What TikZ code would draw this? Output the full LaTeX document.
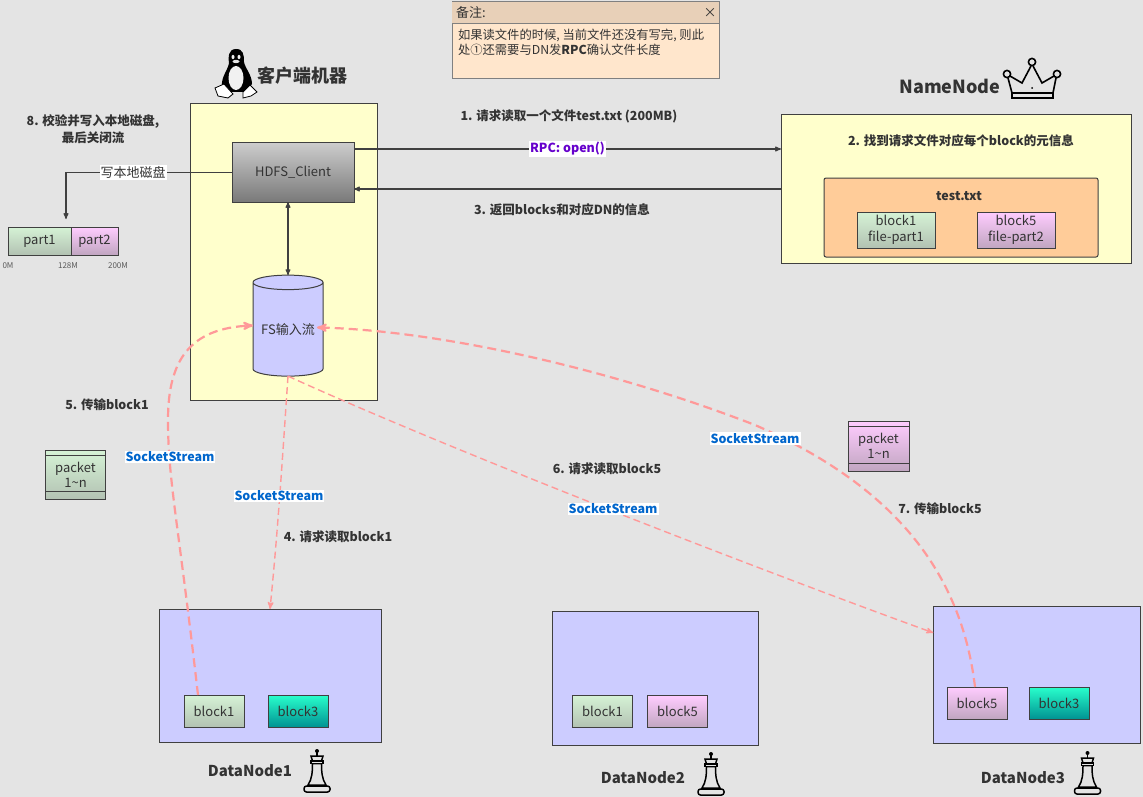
\documentclass[tikz,border=0pt]{standalone}
\usepackage{fontspec}
\setmainfont{Noto Sans CJK SC}
\usetikzlibrary{positioning, arrows, shapes.geometric}
\definecolor{pagebg}{HTML}{E4E4E4}
\definecolor{boxyellow}{HTML}{FFFFCC}
\definecolor{edgedark}{HTML}{404040}
\definecolor{textdark}{HTML}{333333}
\definecolor{discblue}{HTML}{CCCCFF}
\definecolor{fileorange}{HTML}{FFCC99}
\definecolor{notehead}{HTML}{E8D0B8}
\definecolor{notebody}{HTML}{FFE6CC}
\definecolor{pinkline}{HTML}{FF9999}
\definecolor{linkblue}{HTML}{0066CC}
\definecolor{rpcpurple}{HTML}{6600CC}
\tikzset{
  >=stealth',
  x=1pt, y=-1pt,
  every node/.style={inner sep=0pt, outer sep=0pt, text=textdark},
  plain/.style={font=\fontsize{13}{15.5}\selectfont},
  steplabel/.style={font=\bfseries\fontsize{12.5}{17}\selectfont, align=center},
  titlelabel/.style={font=\bfseries\fontsize{18}{20}\selectfont},
  dnlabel/.style={font=\bfseries\fontsize{15}{18}\selectfont},
  panel/.style={draw=edgedark, line width=1pt, fill=boxyellow},
  greenbox/.style={plain, draw=edgedark, line width=1pt, top color=green!12!white!95!black, bottom color=green!20!black!30!white, align=center},
  pinkbox/.style={plain, draw=edgedark, line width=1pt, top color=magenta!20!white, bottom color=magenta!30!black!35!white, align=center},
  tealbox/.style={plain, draw=edgedark, line width=1pt, top color=cyan!80!white!80!green, bottom color=teal!85!cyan, align=center},
  blockbox/.style={minimum width=60pt, minimum height=32pt},
  filebox/.style={minimum width=78pt, minimum height=36pt},
  packetbox/.style={minimum width=60pt, minimum height=49pt, path picture={
      \draw[edgedark, line width=1pt] ([yshift=-5pt]path picture bounding box.north west) -- ([yshift=-5pt]path picture bounding box.north east);
      \draw[edgedark, line width=1pt] ([yshift=8pt]path picture bounding box.south west) -- ([yshift=8pt]path picture bounding box.south east);}},
  datadisc/.style={cylinder, draw=edgedark, line width=1pt, fill=discblue, cylinder uses custom fill, cylinder body fill=discblue, cylinder end fill=discblue, aspect=0.32, minimum height=222pt, minimum width=133pt},
  flow/.style={draw=edgedark, line width=1.1pt},
  pinkbold/.style={draw=pinkline, line width=2.2pt, dash pattern=on 9pt off 5pt},
  pinkthin/.style={draw=pinkline, line width=1.4pt, dash pattern=on 7pt off 4pt},
  socket/.style={fill=white, text=linkblue, font=\bfseries\fontsize{12.5}{14}\selectfont, inner xsep=1pt, inner ysep=1pt},
  chesspiece/.pic={
    \draw[black, line width=1.5pt, fill=pagebg] (-4.5,15.5) .. controls (-4.5,24) and (-5,31) .. (-9,37) -- (9,37) .. controls (5,31) and (4.5,24) .. (4.5,15.5) -- cycle;
    \draw[black, line width=1.5pt, fill=pagebg] (-6,8) -- (6,8) -- (4.5,13) -- (-4.5,13) -- cycle;
    \draw[black, line width=1.5pt, fill=pagebg] (-6,13) rectangle (6,15.5);
    \draw[black, line width=1.5pt, fill=pagebg, rounded corners=2.5pt] (-13,38) rectangle (13,44);
    \fill[black] (0,3) circle (2pt);
    \draw[black, line width=1.5pt] (0,3) -- (0,8);
  },
}

\begin{document}
\begin{tikzpicture}
      % page
      \fill[pagebg] (0,0) rectangle (1143,797);
      \useasboundingbox (0,0) rectangle (1143,797);

      % note
      \node[draw=gray, line width=1pt, fill=notebody, minimum width=267pt, minimum height=77pt] (note) at (585.5,40.5) {};
      \fill[notehead] (note.north west) rectangle ([yshift=-22pt]note.north east);
      \draw[gray, line width=1pt] ([yshift=-22pt]note.north west) -- ([yshift=-22pt]note.north east);
      \node[plain, anchor=west] (notetitle) at (456,13) {备注:};
      \node[plain, anchor=center] (noteclose) at (710,13) {×};
      \node[anchor=north west, font=\fontsize{12.3}{15}\selectfont, align=left] (notetext) at (458,29) {如果读文件的时候, 当前文件还没有写完, 则此\\处①还需要与DN发\textbf{RPC}确认文件长度};

      % client side
      \node[panel, minimum width=187pt, minimum height=296pt] (client) at (284,252) {};
      \node[plain, draw=edgedark, line width=1pt, top color=gray!40, bottom color=gray!95!black, minimum width=122pt, minimum height=59pt] (hdfs) at (293,172.5) {HDFS\_Client};
      \node[cylinder, shape border rotate=90, draw=edgedark, line width=1pt, cylinder uses custom fill, cylinder body fill=discblue, cylinder end fill=discblue, aspect=0.27, minimum width=70pt, minimum height=101pt, plain] (fs) at (288,329.5) {FS输入流};
      \node[titlelabel] (clienttitle) at (302,76) {客户端机器};

      % penguin
      \fill[black] (236,49) .. controls (228,49) and (228,58) .. (229,63) .. controls (228,70) and (221,77) .. (222,86) -- (228,92) -- (245,92) -- (252,84) .. controls (252,75) and (245,68) .. (244,62) .. controls (244,54) and (243,49) .. (236,49) -- cycle;
      \fill[pagebg!50!white] (236,78) ellipse (7.5pt and 12pt);
      \fill[pagebg!50!white] (233,57) ellipse (1.5pt and 2.2pt) (239,57) ellipse (1.5pt and 2.2pt);
      \fill[pagebg] (236,61.5) ellipse (3.5pt and 1.6pt);
      \draw[black, line width=.8pt, fill=white] (215,88) -- (224,84) -- (233,94) -- (228,98) -- (218,96) -- cycle;
      \draw[black, line width=.8pt, fill=white] (243,92) -- (250,85) -- (257,92) -- (251,96) -- (243,98) -- cycle;

      % local disk
      \node[greenbox, minimum width=63pt, minimum height=28pt] (part1) at (39.5,241) {part1};
      \node[pinkbox, minimum width=47pt, minimum height=28pt, right=0pt of part1] (part2) {part2};
      \node[font=\fontsize{8}{9}\selectfont, text=gray!70!black] (mark0) at (8,266) {0M};
      \node[font=\fontsize{8}{9}\selectfont, text=gray!70!black] (mark128) at (68,266) {128M};
      \node[font=\fontsize{8}{9}\selectfont, text=gray!70!black] (mark200) at (118,266) {200M};
      \coordinate (diskin) at (66,219);

      % namenode
      \node[panel, minimum width=350pt, minimum height=148pt] (nn) at (956,189) {};
      \node[draw=edgedark, line width=1pt, fill=fileorange, rounded corners=2pt, minimum width=274pt, minimum height=79pt] (file) at (961,217.5) {};
      \node[font=\bfseries\fontsize{12.5}{15}\selectfont] (filename) at (959,196) {test.txt};
      \node[greenbox, filebox] (part1meta) at (896,230) {block1\\file-part1};
      \node[pinkbox, filebox, right=42pt of part1meta] (part2meta) {block5\\file-part2};
      \node[titlelabel] (nntitle) at (950,86) {NameNode};

      % crown
      \draw[black, line width=1.6pt] (1008,78) -- (1012,93) -- (1053,93) -- (1056,78);
      \draw[black, line width=1.6pt] (1010,76) -- (1022,83) -- (1031,66) (1033,66) -- (1042,83) -- (1054,76);
      \draw[black, line width=1.6pt] (1007,74) circle (3.6pt) (1032,62) circle (3.6pt) (1057,74) circle (3.6pt);
      \draw[black, line width=1.6pt] (1012,93) rectangle (1053,98);
      \fill[black] (1032,88) circle (1pt);

      % datanodes
      \node[datadisc] (dn1) at (270,675.5) {};
      \node[datadisc, minimum width=134pt, minimum height=206pt] (dn2) at (655,678) {};
      \node[datadisc, minimum width=137pt, minimum height=207pt] (dn3) at (1036.5,674.5) {};

      \node[greenbox, blockbox] (dn1b1) at (214,711) {block1};
      \node[tealbox, blockbox, right=24pt of dn1b1] (dn1b3) {block3};
      \node[greenbox, blockbox] (dn2b1) at (602.5,711.5) {block1};
      \node[pinkbox, blockbox, right=15pt of dn2b1] (dn2b5) {block5};
      \node[pinkbox, blockbox] (dn3b5) at (977,703) {block5};
      \node[tealbox, blockbox, right=22pt of dn3b5] (dn3b3) {block3};

      \node[dnlabel] (dn1name) at (250,771) {DataNode1};
      \node[dnlabel] (dn2name) at (643,778) {DataNode2};
      \node[dnlabel] (dn3name) at (1023,778) {DataNode3};
      \pic at (317,748) {chesspiece};
      \pic at (711,751) {chesspiece};
      \pic at (1087.5,750) {chesspiece};

      % packets
      \node[greenbox, packetbox] (pack1) at (75.5,475) {packet\\1\textasciitilde n};
      \node[pinkbox, packetbox, minimum width=61pt, minimum height=50pt] (pack2) at (878.5,446) {packet\\1\textasciitilde n};

      % transitions
      \draw[flow, ->] ([yshift=23.5pt]hdfs.east) -- ([yshift=23.5pt]hdfs.east -| nn.west) node[midway, fill=white, text=rpcpurple, font=\bfseries\fontsize{12.5}{14}\selectfont, inner xsep=1pt, inner ysep=1pt] (rpc) {RPC: open()};
      \draw[flow, ->] (nn.west) -- (nn.west -| hdfs.east);
      \draw[flow, <->] (hdfs.south -| fs.north) -- (fs.north);
      \draw[flow, ->] (hdfs.west) -| (diskin) node[pos=.298, fill=white, font=\fontsize{13}{15}\selectfont, inner xsep=1pt, inner ysep=1pt] (writedisk) {写本地磁盘};

      \draw[pinkthin, ->] (fs.south) .. controls (283,450) and (278,530) .. (dn1.north);
      \draw[pinkthin, ->] (fs.south) .. controls (450,450) and (760,570) .. (dn3.158);
      \draw[pinkbold, ->] ([xshift=14pt]dn1b1.north west) .. controls (178,520) and (168,480) .. (168,420) .. controls (168,360) and (190,328) .. ([yshift=4pt]fs.west);
      \draw[pinkbold, ->] ([xshift=28pt]dn3b5.north west) .. controls (960,560) and (880,480) .. (755,425) .. controls (600,365) and (430,330) .. ([xshift=-6pt,yshift=2pt]fs.east);

      % labels
      \node[socket] (socket1) at (170,457) {SocketStream};
      \node[socket] (socket2) at (279,496) {SocketStream};
      \node[socket] (socket3) at (613,509) {SocketStream};
      \node[socket] (socket4) at (755,438.5) {SocketStream};
      \node[steplabel] (step1) at (569,116) {1. 请求读取一个文件test.txt (200MB)};
      \node[steplabel] (step2) at (961,141) {2. 找到请求文件对应每个block的元信息};
      \node[steplabel] (step3) at (562,210) {3. 返回blocks和对应DN的信息};
      \node[steplabel] (step4) at (338,537) {4. 请求读取block1};
      \node[steplabel] (step5) at (107,405) {5. 传输block1};
      \node[steplabel] (step6) at (607,469) {6. 请求读取block5};
      \node[steplabel] (step7) at (940,509) {7. 传输block5};
      \node[steplabel] (step8) at (93,129) {8. 校验并写入本地磁盘,\\最后关闭流};
\end{tikzpicture}
\end{document}
